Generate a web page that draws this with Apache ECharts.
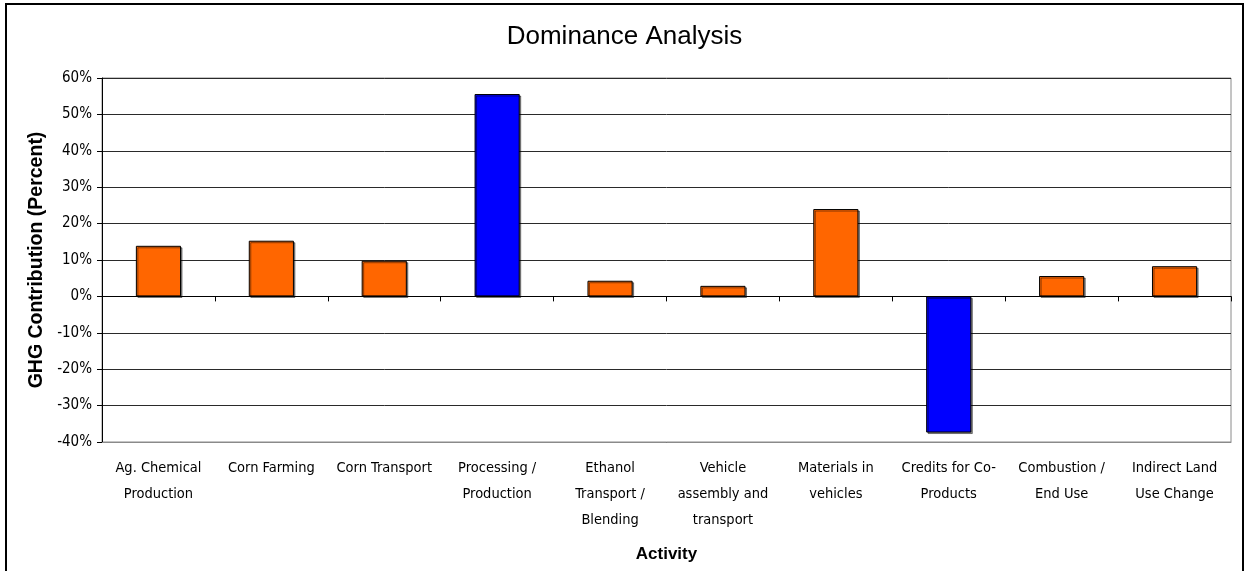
<!DOCTYPE html>
<html>
<head>
<meta charset="utf-8">
<script src="https://cdn.jsdelivr.net/npm/echarts@6/dist/echarts.min.js"></script>
<style>
  html, body { margin: 0; padding: 0; background: #fff; }
  #chart { width: 1249px; height: 571px; }
</style>
</head>
<body>
<div id="chart"></div>
<script>
// Life-cycle stages and their share of total GHG emissions (percent)
const categories = [
  'Ag. Chemical\nProduction',
  'Corn Farming',
  'Corn Transport',
  'Processing /\nProduction',
  'Ethanol\nTransport /\nBlending',
  'Vehicle\nassembly and\ntransport',
  'Materials in\nvehicles',
  'Credits for Co-\nProducts',
  'Combustion /\nEnd Use',
  'Indirect Land\nUse Change'
];
const contribution = [13.9, 15.3, 9.8, 55.6, 4.3, 2.9, 24.0, -37.4, 5.6, 8.3];
// Stages drawn in the highlight colour
const dominantStages = ['Processing /\nProduction', 'Credits for Co-\nProducts'];
const yTicks = { min: -40, max: 60, step: 10 };

const FONT = '"Liberation Sans", Arial, sans-serif';
const COND = '"DejaVu Sans Condensed", "Liberation Sans", Arial, sans-serif';
const ORANGE = '#FF6600';
const BLUE = '#0000FF';

const chart = echarts.init(document.getElementById('chart'), null, { renderer: 'canvas' });

chart.setOption({
  backgroundColor: '#ffffff',
  animation: false,
  title: {
    text: 'Dominance Analysis',
    left: 'center',
    top: 19,
    textStyle: { fontFamily: FONT, fontSize: 26, fontWeight: 'normal', color: '#000' }
  },
  graphic: [{
    type: 'rect',
    shape: { x: 6, y: 4, width: 1237, height: 620 },
    style: { fill: 'none', stroke: '#000', lineWidth: 2 },
    silent: true
  }],
  grid: {
    left: 102, right: 18, top: 78, bottom: 129,
    show: true, borderColor: '#8a8a8a', borderWidth: 1, backgroundColor: 'transparent'
  },
  xAxis: [{
    type: 'category',
    data: categories,
    position: 'bottom',
    name: 'Activity',
    nameLocation: 'middle',
    nameGap: 104,
    nameTextStyle: { fontFamily: FONT, fontSize: 17, fontWeight: 'bold', color: '#000' },
    axisLine: { show: true, onZero: false, lineStyle: { color: '#8a8a8a', width: 1 } },
    axisTick: { show: false },
    axisLabel: {
      interval: 0, margin: 13,
      fontFamily: COND, fontSize: 14.5, lineHeight: 26, color: '#000'
    },
    splitLine: { show: false }
  }, {
    type: 'category',
    data: categories,
    position: 'bottom',
    axisLine: { show: true, onZero: true, lineStyle: { color: '#000', width: 1 } },
    axisTick: { show: true, length: 5, lineStyle: { color: '#000' } },
    axisLabel: { show: false },
    splitLine: { show: false }
  }],
  yAxis: {
    type: 'value',
    min: yTicks.min, max: yTicks.max, interval: yTicks.step,
    name: 'GHG Contribution (Percent)',
    nameLocation: 'middle',
    nameGap: 45,
    nameRotate: 90,
    nameTextStyle: { fontFamily: FONT, fontSize: 19.5, fontWeight: 'bold', color: '#000' },
    axisLine: { show: true, lineStyle: { color: '#000', width: 1 } },
    axisTick: { show: true, length: 5, lineStyle: { color: '#000' } },
    axisLabel: {
      margin: 10,
      fontFamily: COND, fontSize: 15, color: '#000',
      formatter: '{value}%'
    },
    splitLine: { show: true, lineStyle: { color: '#2a2a2a', width: 1 } }
  },
  series: [{
    type: 'bar',
    xAxisIndex: 0,
    data: contribution.map((v, i) => ({
      value: v,
      itemStyle: { color: dominantStages.includes(categories[i]) ? BLUE : ORANGE }
    })),
    barCategoryGap: '60%',
    itemStyle: {
      borderColor: '#000',
      borderWidth: 1,
      shadowColor: 'rgba(0,0,0,0.45)',
      shadowOffsetX: 1.5,
      shadowOffsetY: 1.5,
      shadowBlur: 0
    }
  }]
});
</script>
</body>
</html>
